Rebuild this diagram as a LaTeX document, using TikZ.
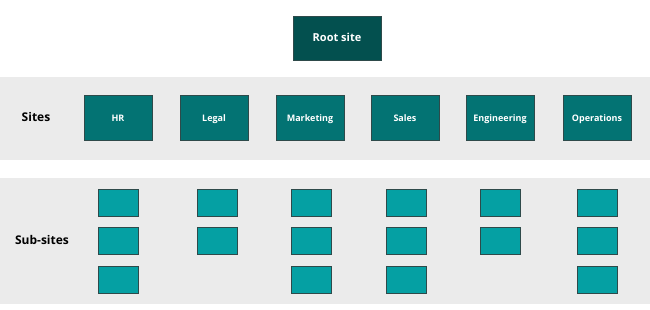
\documentclass[tikz,border=0pt]{standalone}
\usepackage{fontspec}
\setmainfont{Open Sans}
\definecolor{rootteal}{HTML}{03504F}
\definecolor{siteteal}{HTML}{037373}
\definecolor{subteal}{HTML}{05A0A3}
\definecolor{bandgray}{HTML}{EBEBEB}
\definecolor{edgegray}{HTML}{2E4A4A}
\tikzset{
  rootbox/.style={draw=edgegray, line width=0.5pt, fill=rootteal, minimum width=88pt, minimum height=44pt,
    text=white, font=\bfseries\fontsize{11}{13}\selectfont, text height=1.6ex, text depth=.4ex},
  sitebox/.style={draw=edgegray, line width=0.5pt, fill=siteteal, minimum width=68pt, minimum height=45pt,
    text=white, font=\bfseries\fontsize{9}{11}\selectfont, text height=1.6ex, text depth=.4ex},
  subbox/.style={draw=edgegray, line width=0.5pt, fill=subteal, minimum width=40pt, minimum height=27pt},
  bandlabel/.style={font=\bfseries\fontsize{12}{14}\selectfont, text=black, text height=1.6ex, text depth=.4ex}
}
\begin{document}
\begin{tikzpicture}[x=1pt, y=-1pt]
  \useasboundingbox (0,0) rectangle (650,310);
  % bands
  \fill[bandgray] (0,77) rectangle (650,160);
  \fill[bandgray] (0,178) rectangle (650,304);

  % root
  \node[rootbox] (root) at (337,38) {Root site};

  % sites
  \node[bandlabel] (sites) at (36,118) {Sites};
  \node[sitebox] (hr) at (118,118) {HR};
  \node[sitebox] (legal) at (214,118) {Legal};
  \node[sitebox] (marketing) at (310,118) {Marketing};
  \node[sitebox] (sales) at (405,118) {Sales};
  \node[sitebox] (engineering) at (500,118) {Engineering};
  \node[sitebox] (operations) at (597,118) {Operations};

  % sub-sites
  \node[bandlabel] (subsites) at (42,241) {Sub-sites};
  \foreach \site/\xc/\n in {hr/118/3, legal/217/2, marketing/311/3, sales/406/3, engineering/500/2, operations/597/3}
    \foreach \i in {1,...,\n}
      \node[subbox] (\site-sub-\i) at (\xc,{164+38.5*\i}) {};
\end{tikzpicture}
\end{document}
